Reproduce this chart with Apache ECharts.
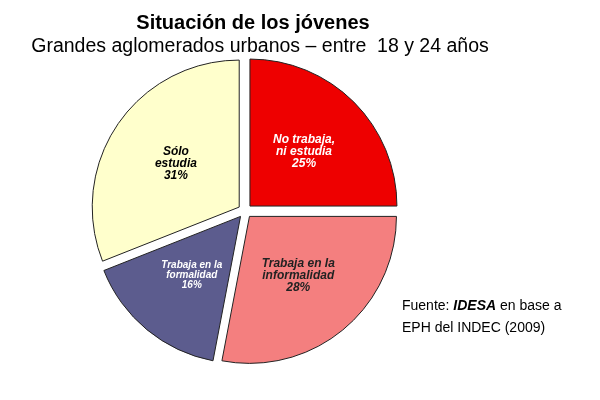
<!DOCTYPE html>
<html><head><meta charset="utf-8">
<script src="https://cdn.jsdelivr.net/npm/echarts@6/dist/echarts.min.js"></script>
<style>html,body{margin:0;background:#fff}#c{width:600px;height:400px}</style>
</head><body><div id="c"></div>
<script>
const categories = ['No trabaja,\nni estudia', 'Trabaja en la\ninformalidad', 'Trabaja en la\nformalidad', 'Sólo\nestudia'];
const values = [25, 28, 16, 31];
const colors = ['#ee0000', '#f47f7f', '#5c5c8e', '#ffffcc'];
const textColors = ['#fff', '#222', '#fff', '#000'];
const fontSizes = [12, 12, 10, 12];

const chart = echarts.init(document.getElementById('c'));
chart.setOption({
  animation: false,
  title: [{
    text: 'Situación de los jóvenes',
    left: 248, top: 8, textAlign: 'center',
    textStyle: { fontFamily: 'Arial, Liberation Sans', fontSize: 20, fontWeight: 'bold', color: '#000' }
  }, {
    text: 'Grandes aglomerados urbanos – entre  18 y 24 años',
    left: 255, top: 32, textAlign: 'center',
    textStyle: { fontFamily: 'Arial, Liberation Sans', fontSize: 19.5, fontWeight: 'normal', color: '#000' }
  }, {
    text: 'Fuente: {b|IDESA} en base a\nEPH del INDEC (2009)',
    left: 397, top: 290,
    textStyle: { fontFamily: 'Arial, Liberation Sans', fontSize: 14, fontWeight: 'normal', color: '#000', lineHeight: 22,
      rich: { b: { fontStyle: 'italic', fontWeight: 'bold', fontSize: 14, fontFamily: 'Arial, Liberation Sans' } } }
  }],
  series: [{
    type: 'pie',
    center: [245, 211],
    radius: [0, 147],
    startAngle: 90,
    clockwise: true,
    selectedMode: 'multiple',
    selectedOffset: 7,
    itemStyle: { borderColor: '#222', borderWidth: 1 },
    label: {
      position: 'inner',
      fontFamily: 'Arial, Liberation Sans',
      fontWeight: 'bold',
      fontStyle: 'italic',
      formatter: p => p.name + '\n' + p.value + '%'
    },
    data: categories.map((n, i) => ({
      name: n, value: values[i], selected: true,
      itemStyle: { color: colors[i] },
      label: { color: textColors[i], fontSize: fontSizes[i] }
    }))
  }]
});
</script></body></html>
